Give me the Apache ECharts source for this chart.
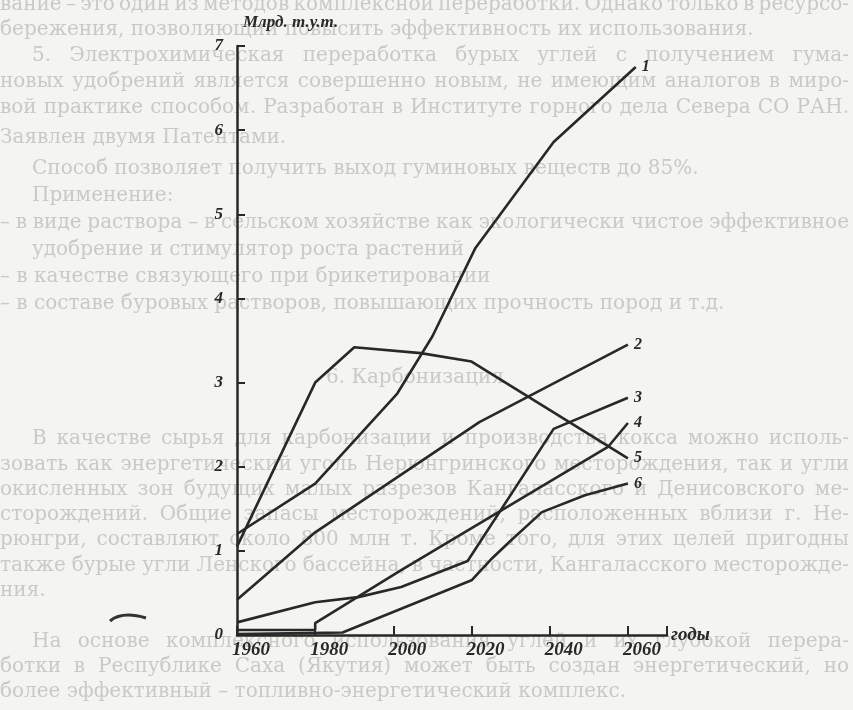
<!DOCTYPE html>
<html>
<head>
<meta charset="utf-8">
<script src="https://cdn.jsdelivr.net/npm/echarts@6/dist/echarts.min.js"></script>
<style>
  html, body { margin: 0; padding: 0; background: #f4f4f1; }
  #chart { width: 853px; height: 710px; }
</style>
</head>
<body>
<div id="chart"></div>
<script>
// кривые 1..6, [год, млрд т.у.т.]
var line1 = [[1960, 1.2], [1980, 1.8], [2001, 2.87], [2010, 3.55], [2021, 4.6], [2041, 5.86], [2062, 6.75]];
var line2 = [[1960, 0.42], [1980, 1.22], [2022, 2.53], [2060, 3.45]];
var line3 = [[1960, 0.15], [1980, 0.39], [1991, 0.45], [2002, 0.57], [2019, 0.88], [2041, 2.45], [2060, 2.82]];
var line4 = [[1960, 0.06], [1980, 0.06], [1980, 0.14], [2002, 0.77], [2055, 2.24], [2060, 2.52]];
var line5 = [[1960, 1.05], [1980, 3.0], [1990, 3.42], [2007, 3.35], [2020, 3.25], [2060, 2.1]];
var line6 = [[1960, 0.01], [1987, 0.03], [2020, 0.65], [2025, 0.9], [2030, 1.12], [2038, 1.46], [2049, 1.66], [2060, 1.8]];
var lineNames = ['1', '2', '3', '4', '5', '6'];

// бледный текст страницы под рисунком ('>' = абзацный отступ, '|' = конец абзаца)
var pageText = [
  'вание – это один из методов комплексной переработки. Однако только в ресурсо-',
  'бережения, позволяющий повысить эффективность их использования.|',
  '>5. Электрохимическая переработка бурых углей с получением гума-',
  'новых удобрений является совершенно новым, не имеющим аналогов в миро-',
  'вой практике способом. Разработан в Институте горного дела Севера СО РАН.',
  'Заявлен двумя Патентами.|',
  '>Способ позволяет получить выход гуминовых веществ до 85%.|',
  '>Применение:|',
  '– в виде раствора – в сельском хозяйстве как экологически чистое эффективное',
  '>удобрение и стимулятор роста растений|',
  '– в качестве связующего при брикетировании|',
  '– в составе буровых растворов, повышающих прочность пород и т.д.|'
];
var pageTextY = [5, 30, 56, 82, 108, 138, 169, 196, 223, 250, 277, 304];
var pageTextLow = [
  '>В качестве сырья для карбонизации и производства кокса можно исполь-',
  'зовать как энергетический уголь Нерюнгринского месторождения, так и угли',
  'окисленных зон будущих малых разрезов Кангаласского и Денисовского ме-',
  'сторождений. Общие запасы месторождений, расположенных вблизи г. Не-',
  'рюнгри, составляют около 800 млн т. Кроме того, для этих целей пригодны',
  'также бурые угли Ленского бассейна, в частности, Кангаласского месторожде-',
  'ния.|',
  '',
  '>На основе комплексного использования углей и их глубокой перера-',
  'ботки в Республике Саха (Якутия) может быть создан энергетический, но',
  'более эффективный – топливно-энергетический комплекс.|'
];

var serif = '"Liberation Serif", "DejaVu Serif", serif';
var ink = '#282828';
var paper = '#c9c9c5';
var pageFont = '20px "DejaVu Serif", serif';

var graphics = [];
var measure = document.createElement('canvas').getContext('2d');
measure.font = pageFont;

function addPageLine(str, y) {
  if (!str) return;
  var x0 = 0;
  var justify = true;
  if (str.charAt(0) === '>') { x0 = 32; str = str.slice(1); }
  if (str.charAt(str.length - 1) === '|') { justify = false; str = str.slice(0, -1); }
  var words = str.split(' ');
  var widths = words.map(function (w) { return measure.measureText(w).width; });
  var total = widths.reduce(function (a, b) { return a + b; }, 0);
  var space = measure.measureText(' ').width;
  var gap = justify && words.length > 1 ? (849 - x0 - total) / (words.length - 1) : space;
  gap = Math.max(gap, space * 0.6);
  var x = x0;
  words.forEach(function (w, i) {
    graphics.push({
      type: 'text', silent: true, z: 0, x: x, y: y,
      style: { text: w, font: pageFont, fill: paper, verticalAlign: 'middle' }
    });
    x += widths[i] + gap;
  });
}
pageText.forEach(function (t, i) { addPageLine(t, pageTextY[i]); });
graphics.push({
  type: 'text', silent: true, z: 0, x: 415, y: 378,
  style: { text: '6. Карбонизация', font: pageFont, fill: paper, align: 'center', verticalAlign: 'middle' }
});
pageTextLow.forEach(function (t, i) { addPageLine(t, 439 + i * 25.3); });

// след от скана слева внизу
graphics.push({
  type: 'bezierCurve', silent: true, z: 1,
  shape: { x1: 110, y1: 621, cpx1: 122, cpy1: 611, x2: 146, y2: 618 },
  style: { stroke: '#333', lineWidth: 3, fill: null }
});

function mkSeries(name, data) {
  return {
    name: name,
    type: 'line',
    data: data,
    symbol: 'none',
    z: 3,
    lineStyle: { color: ink, width: 2.6 },
    endLabel: {
      show: true,
      formatter: name,
      distance: 6,
      color: ink,
      fontFamily: serif,
      fontStyle: 'italic',
      fontWeight: 'bold',
      fontSize: 16
    }
  };
}

var chart = echarts.init(document.getElementById('chart'));
chart.setOption({
  backgroundColor: '#f4f4f1',
  animation: false,
  graphic: graphics,
  grid: { left: 237, right: 186, top: 46, bottom: 75, containLabel: false },
  xAxis: {
    type: 'value',
    min: 1960, max: 2070, interval: 20,
    name: 'годы',
    nameLocation: 'end',
    nameGap: 4,
    nameTextStyle: { color: ink, fontFamily: serif, fontStyle: 'italic', fontWeight: 'bold', fontSize: 19, padding: [38, 0, 0, 0] },
    axisLine: { lineStyle: { color: ink, width: 2.5 } },
    axisTick: { inside: true, length: 9, lineStyle: { color: ink, width: 2 } },
    axisLabel: {
      formatter: function (v) { return v <= 2060 ? String(v) : ''; },
      color: ink, fontFamily: serif, fontStyle: 'italic', fontWeight: 'bold', fontSize: 19,
      margin: 6, padding: [0, 0, 0, 28]
    },
    splitLine: { show: false }
  },
  yAxis: {
    type: 'value',
    min: 0, max: 7, interval: 1,
    name: 'Млрд. т.у.т.',
    nameLocation: 'end',
    nameGap: 15,
    nameTextStyle: { color: ink, fontFamily: serif, fontStyle: 'italic', fontWeight: 'bold', fontSize: 17, align: 'left', padding: [0, 0, 0, 6] },
    axisLine: { show: true, lineStyle: { color: ink, width: 2.5 } },
    axisTick: { show: true, inside: true, length: 8, lineStyle: { color: ink, width: 2 } },
    axisLabel: { color: ink, fontFamily: serif, fontStyle: 'italic', fontWeight: 'bold', fontSize: 17, margin: 14, padding: [0, 0, 6, 0] },
    splitLine: { show: false }
  },
  series: [
    mkSeries(lineNames[0], line1),
    mkSeries(lineNames[1], line2),
    mkSeries(lineNames[2], line3),
    mkSeries(lineNames[3], line4),
    mkSeries(lineNames[4], line5),
    mkSeries(lineNames[5], line6)
  ]
});
</script>
</body>
</html>
